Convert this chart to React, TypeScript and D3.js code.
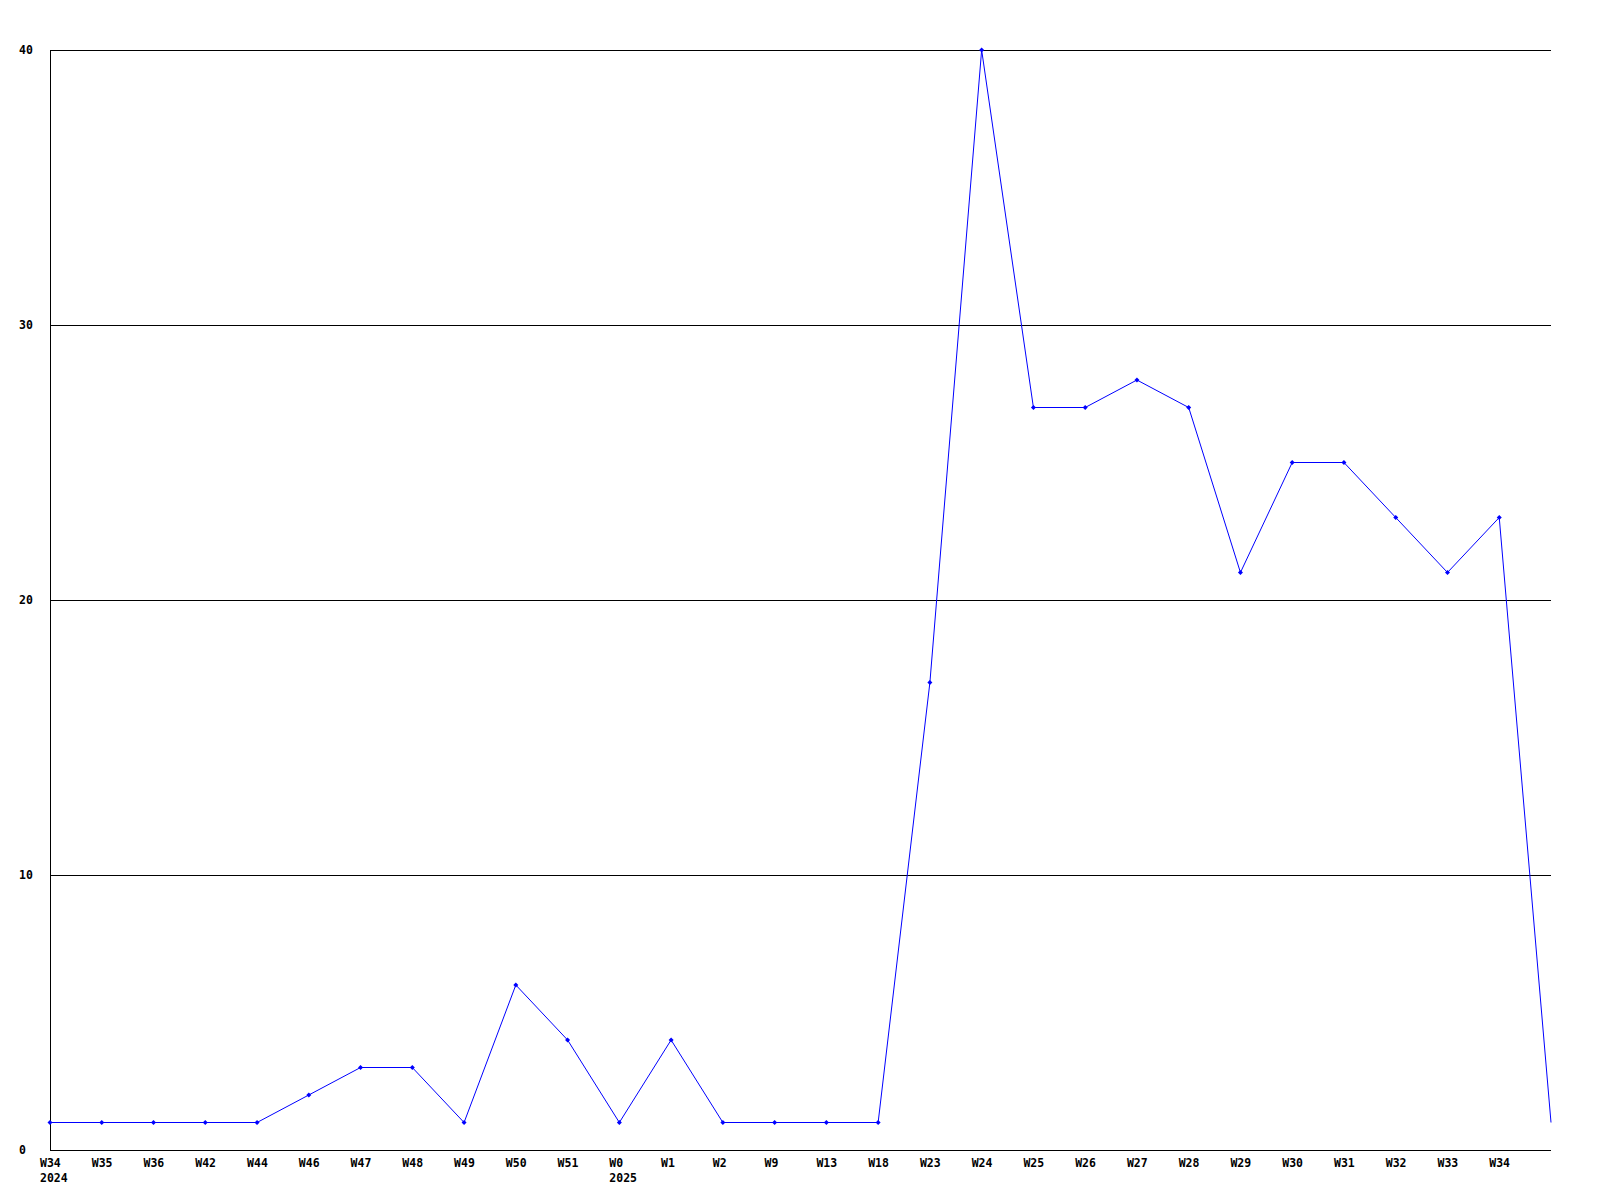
import React from "react";
import * as d3 from "d3";

const weekLabels = ["W34","W35","W36","W42","W44","W46","W47","W48","W49","W50","W51","W0","W1","W2","W9","W13","W18","W23","W24","W25","W26","W27","W28","W29","W30","W31","W32","W33","W34",""];
const yearLabels: { index: number; year: string }[] = [
  { index: 0, year: "2024" },
  { index: 11, year: "2025" },
];
const values = [1,1,1,1,1,2,3,3,1,6,4,1,4,1,1,1,1,17,40,27,27,28,27,21,25,25,23,21,23,1];
const yTicks = [0, 10, 20, 30, 40];

export default function App() {
  const W = 1600, H = 1200;
  const left = 50, right = 1551, top = 50, bottom = 1150;
  const x = d3.scaleLinear().domain([0, values.length - 1]).range([left, right]);
  const y = d3.scaleLinear().domain([0, 40]).range([bottom, top]);
  const line = d3.line<number>().x((_, i) => x(i)).y((d) => y(d));
  const font = "'DejaVu Sans Mono', monospace";
  const fs = 11.5;
  return (
    <div style={{ position: "absolute", left: 0, top: 0 }}>
      <svg width={W} height={H} style={{ display: "block", background: "#fff" }}>
        {yTicks.filter((t) => t > 0).map((t) => (
          <line key={t} x1={left} x2={right} y1={y(t) + 0.5} y2={y(t) + 0.5} stroke="#000" strokeWidth={1} />
        ))}
        <line x1={left + 0.5} x2={left + 0.5} y1={top} y2={bottom + 0.5} stroke="#000" strokeWidth={1} />
        <line x1={left} x2={right} y1={bottom + 0.5} y2={bottom + 0.5} stroke="#000" strokeWidth={1} />
        {yTicks.map((t) => (
          <text key={t} x={19} y={y(t)} dy="0.35em" fontFamily={font} fontWeight="bold" fontSize={fs} fill="#000">{t}</text>
        ))}
        {weekLabels.map((l, i) => l ? (
          <text key={i} x={x(i) - 10} y={bottom + 13} dy="0.35em" fontFamily={font} fontWeight="bold" fontSize={fs} fill="#000">{l}</text>
        ) : null)}
        {yearLabels.map((d) => (
          <text key={d.year} x={x(d.index) - 10} y={bottom + 28} dy="0.35em" fontFamily={font} fontWeight="bold" fontSize={fs} fill="#000">{d.year}</text>
        ))}
        <path d={line(values) || ""} fill="none" stroke="#0000ff" strokeWidth={1} />
        {values.slice(0, values.length - 1).map((v, i) => (
          <path key={i} d={`M${x(i) - 2.5},${y(v)}L${x(i)},${y(v) - 2.5}L${x(i) + 2.5},${y(v)}L${x(i)},${y(v) + 2.5}Z`} fill="#0000ff" stroke="none" />
        ))}
      </svg>
    </div>
  );
}
